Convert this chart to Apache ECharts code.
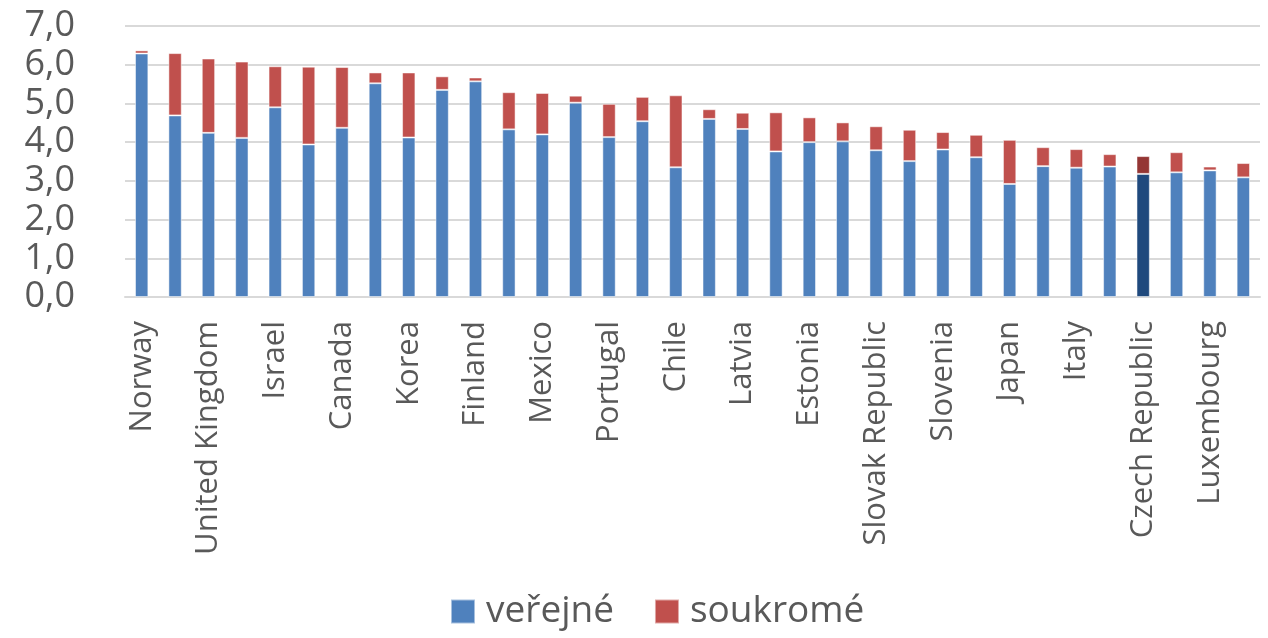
<!DOCTYPE html>
<html>
<head>
<meta charset="utf-8">
<script src="https://cdn.jsdelivr.net/npm/echarts@6/dist/echarts.min.js"></script>
<style>html,body{margin:0;padding:0;background:#fff}#c{width:1268px;height:638px}</style>
</head>
<body>
<div id="c"></div>
<script>
const categories = ["Norway","United States","United Kingdom","New Zealand","Israel","Australia","Canada","Iceland","Korea","Denmark","Finland","Colombia","Mexico","Belgium","Portugal","France","Chile","Austria","Latvia","Netherlands","Estonia","Turkey","Slovak Republic","Germany","Slovenia","Spain","Japan","Poland","Italy","Lithuania","Czech Republic","Hungary","Luxembourg","Greece"];
const verejne = [6.29,4.69,4.24,4.11,4.90,3.94,4.37,5.52,4.12,5.35,5.57,4.33,4.20,5.02,4.13,4.54,3.35,4.60,4.34,3.76,4.00,4.02,3.79,3.51,3.81,3.61,2.92,3.38,3.34,3.37,3.18,3.22,3.27,3.09];
const soukrome = [0.08,1.61,1.92,1.97,1.06,2.01,1.57,0.28,1.68,0.35,0.10,0.96,1.07,0.18,0.86,0.63,1.86,0.25,0.42,1.01,0.64,0.49,0.62,0.81,0.45,0.58,1.14,0.49,0.48,0.32,0.46,0.52,0.10,0.37];
const yTicks = [0,1,2,3,4,5,6,7];
const highlight = "Czech Republic";

const chart = echarts.init(document.getElementById('c'));
const mk = (arr, hiColor) => arr.map((v,i) => categories[i] === highlight ? {value: v, itemStyle: {color: hiColor}} : v);
chart.setOption({
  animation: false,
  textStyle: {fontFamily: 'Open Sans'},
  grid: {left: 125, right: 8, top: 26, bottom: 341, containLabel: false},
  legend: {
    bottom: 3, left: 445,
    itemWidth: 24, itemHeight: 24, itemGap: 40,
    icon: 'rect',
    textStyle: {fontSize: 37, color: '#595959', fontFamily: 'Open Sans', padding: [0,0,0,6]},
    data: ['veřejné','soukromé']
  },
  xAxis: {
    type: 'category', data: categories,
    axisLine: {lineStyle: {color: '#d9d9d9', width: 2}},
    axisTick: {show: false},
    axisLabel: {rotate: 90, interval: 1, fontSize: 31, color: '#595959', margin: 24, fontFamily: 'Open Sans'}
  },
  yAxis: {
    type: 'value', min: yTicks[0], max: yTicks[yTicks.length-1], interval: 1,
    axisLine: {show: false}, axisTick: {show: false},
    splitLine: {lineStyle: {color: '#d9d9d9', width: 2}},
    axisLabel: {fontSize: 36, color: '#595959', margin: 50, fontFamily: 'Open Sans',
      formatter: v => v.toFixed(1).replace('.', ',')}
  },
  series: [
    {name: 'veřejné', type: 'bar', stack: 'a', barWidth: '40%', data: mk(verejne, '#1F497D'),
     itemStyle: {color: '#4F81BD', borderColor: 'rgba(255,255,255,0.5)', borderWidth: 1}},
    {name: 'soukromé', type: 'bar', stack: 'a', barWidth: '40%', data: mk(soukrome, '#943634'),
     itemStyle: {color: '#C0504D', borderColor: 'rgba(255,255,255,0.5)', borderWidth: 1}}
  ]
});
</script>
</body>
</html>
